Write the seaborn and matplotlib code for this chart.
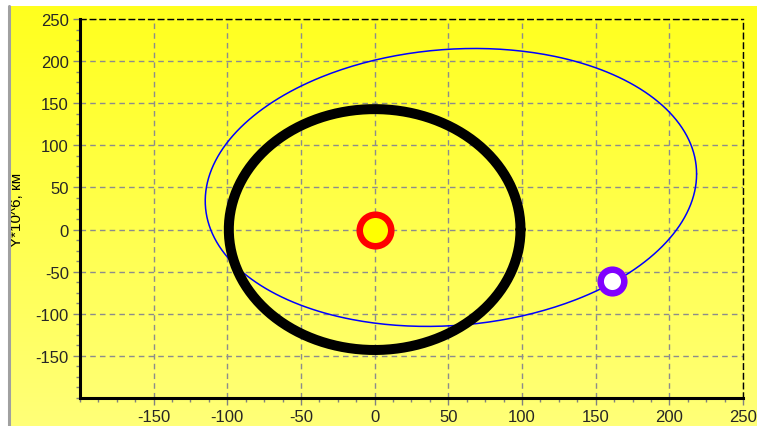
import numpy as np
import pandas as pd
import seaborn as sns
import matplotlib.pyplot as plt
from matplotlib.ticker import MultipleLocator
from matplotlib.colors import LinearSegmentedColormap

# --- data (units: 10^6 km) ---
# black orbit: centre and semi-axes
orbit1_center = (0.0, 0.0)
orbit1_radii = (99.0, 143.0)
# blue orbit: centre, semi-axes and tilt phase
orbit2_center = (51.75, 50.0)
orbit2_radii = (166.75, 165.0)
orbit2_phase = 0.097
# bodies
sun_xy = (0.0, 0.0)
planet_xy = (161.0, -61.0)

x_ticks = [-150, -100, -50, 0, 50, 100, 150, 200, 250]
y_ticks = [-150, -100, -50, 0, 50, 100, 150, 200, 250]

t = np.linspace(0, 2 * np.pi, 400)
orbit1 = pd.DataFrame({
    "x": orbit1_center[0] + orbit1_radii[0] * np.cos(t),
    "y": orbit1_center[1] + orbit1_radii[1] * np.sin(t),
})
orbit2 = pd.DataFrame({
    "x": orbit2_center[0] + orbit2_radii[0] * np.cos(t),
    "y": orbit2_center[1] + orbit2_radii[1] * np.sin(t + np.arcsin(orbit2_phase)),
})

sns.set_theme(style="white")
plt.rcParams["font.family"] = ["Liberation Sans", "DejaVu Sans"]
plt.rcParams["axes.unicode_minus"] = False

fig = plt.figure(figsize=(7.57, 4.27), dpi=100)
fig.patch.set_facecolor("white")

# yellow gradient panel behind everything
bg = fig.add_axes([10 / 757, 0, 747 / 757, 420 / 427])
grad = np.linspace(0, 1, 256).reshape(-1, 1)
cmap = LinearSegmentedColormap.from_list("yel", ["#ffff1e", "#ffff78"])
bg.imshow(grad, aspect="auto", cmap=cmap, extent=[0, 1, 0, 1], origin="upper")
bg.set_axis_off()
# grey left border
fig.add_artist(plt.Line2D([8.5 / 757, 8.5 / 757], [0, 420 / 427], color="#a0a0a0",
                          lw=2.2, transform=fig.transFigure))

ax = fig.add_axes([80 / 757, 1 - 399 / 427, 663 / 757, 379 / 427])
ax.set_facecolor("none")

sns.lineplot(data=orbit2, x="x", y="y", sort=False, estimator=None,
             color="#0000ff", lw=1.1, ax=ax, zorder=3)
sns.lineplot(data=orbit1, x="x", y="y", sort=False, estimator=None,
             color="black", lw=7.2, ax=ax, zorder=4)
ax.plot([planet_xy[0]], [planet_xy[1]], "o", ms=17, mfc="white", mec="#8000ff",
        mew=4.7, zorder=5)
ax.plot([sun_xy[0]], [sun_xy[1]], "o", ms=22.7, mfc="#ffff00", mec="#ff0000",
        mew=4.7, zorder=6)

ax.set_xlim(-200, 250)
ax.set_ylim(-200, 250)
ax.set_xticks(x_ticks)
ax.set_yticks(y_ticks)
ax.xaxis.set_minor_locator(MultipleLocator(12.5))
ax.yaxis.set_minor_locator(MultipleLocator(12.5))
ax.grid(True, which="major", color="#8c8c8c", linestyle=(0, (4, 3)), lw=1.0, zorder=1)
ax.set_axisbelow(True)

ax.tick_params(axis="both", which="major", direction="out", length=5, width=1,
               color="#808080", labelsize=12, pad=3, bottom=True, left=True)
ax.tick_params(axis="both", which="minor", direction="out", length=3, width=1,
               color="#808080", bottom=True, left=True)

for side in ["left", "bottom"]:
    ax.spines[side].set_color("black")
    ax.spines[side].set_linewidth(2.2)
for side in ["top", "right"]:
    ax.spines[side].set_color("black")
    ax.spines[side].set_linewidth(1.0)
    ax.spines[side].set_linestyle((0, (4, 3)))

ax.set_xlabel("")
ax.set_ylabel("Y*10^6, км", fontsize=11, color="black")
ax.yaxis.set_label_coords(-0.084, 0.5)

fig.savefig("out.png", dpi=100)
